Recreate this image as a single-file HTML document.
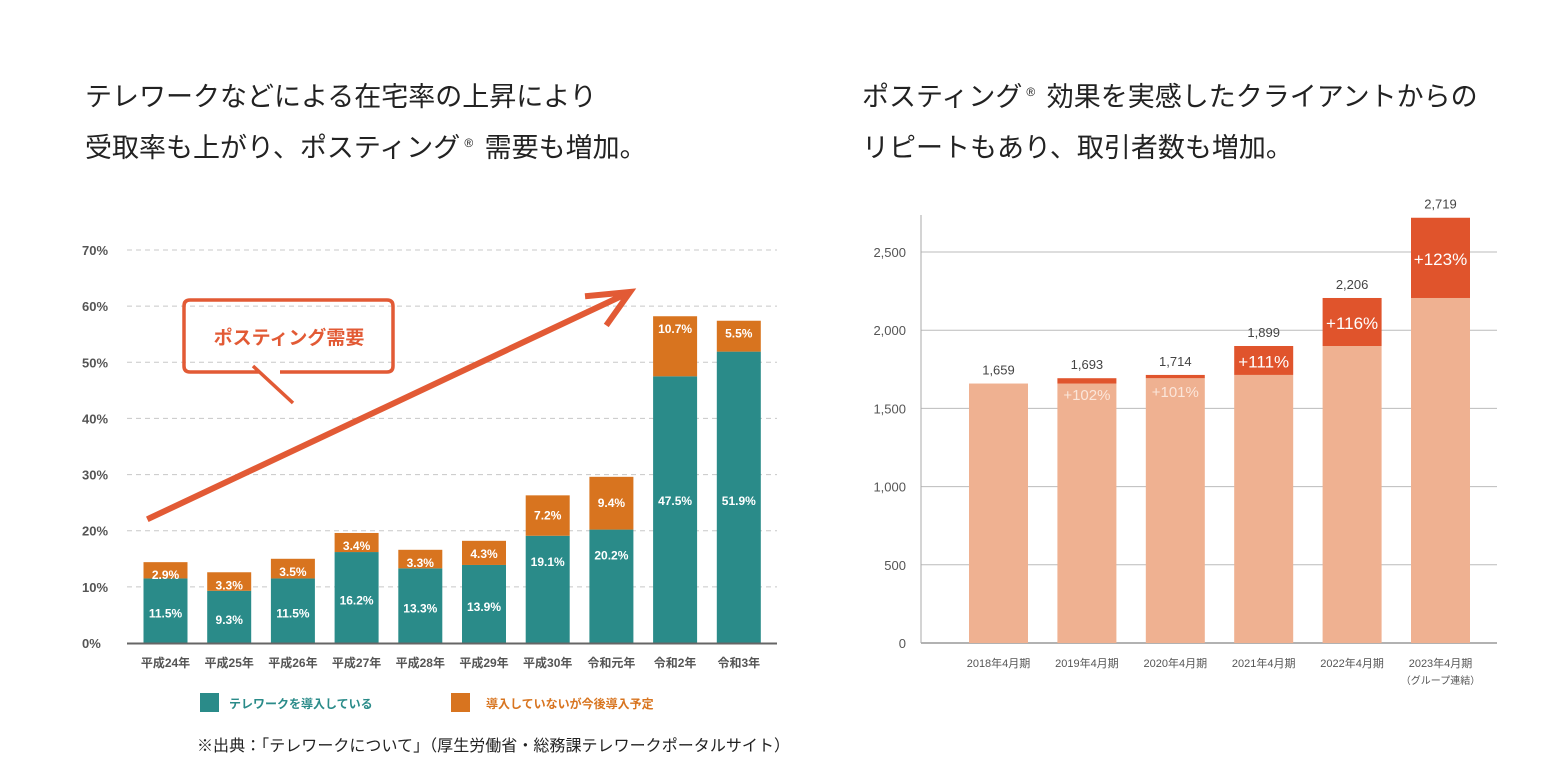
<!DOCTYPE html>
<html><head><meta charset="utf-8"><style>
body{margin:0;background:#fff;width:1560px;height:782px;overflow:hidden;font-family:"Liberation Sans","Noto Sans CJK JP",sans-serif}
.t{position:absolute;font-size:27px;color:#222;line-height:51px;white-space:nowrap}
.t sup{font-size:12px;line-height:0;vertical-align:10px;margin:0 4px}
svg{position:absolute;left:0;top:0}
</style></head><body>
<div class="t" style="left:85px;top:72px">テレワークなどによる在宅率の上昇により<br>受取率も上がり、ポスティング<sup>®</sup> 需要も増加。</div>
<div class="t" style="left:862px;top:72px">ポスティング<sup>®</sup> 効果を実感したクライアントからの<br>リピートもあり、取引者数も増加。</div>
<svg id="s" width="1560" height="782" font-family="Liberation Sans, Noto Sans CJK JP, sans-serif"></svg>
<script>
const leftCats=["平成24年","平成25年","平成26年","平成27年","平成28年","平成29年","平成30年","令和元年","令和2年","令和3年"];
const leftIntro=[11.5,9.3,11.5,16.2,13.3,13.9,19.1,20.2,47.5,51.9];
const leftPlan=[2.9,3.3,3.5,3.4,3.3,4.3,7.2,9.4,10.7,5.5];
const leftTicks=[0,10,20,30,40,50,60,70];
const rightCats=["2018年4月期","2019年4月期","2020年4月期","2021年4月期","2022年4月期","2023年4月期"];
const rightTotals=[1659,1693,1714,1899,2206,2719];
const rightPct=["","+102%","+101%","+111%","+116%","+123%"];
const rightTicks=[0,500,1000,1500,2000,2500];
const NS="http://www.w3.org/2000/svg",s=document.getElementById('s');
function mk(t,a,txt){const e=document.createElementNS(NS,t);for(const k in a)e.setAttribute(k,a[k]);if(txt!=null)e.textContent=txt;s.appendChild(e);return e;}
const ly=v=>643-v*(393/70), lx=i=>165.5+i*63.7;
leftTicks.forEach(v=>{
 if(v>0){const g=mk('line',{x1:127,x2:777,y1:ly(v),y2:ly(v),stroke:'#c8c8c8','stroke-dasharray':'5,4'});
 }
 const t=mk('text',{x:82,y:ly(v)+5,'font-size':13,'font-weight':'bold',fill:'#555'},v+'%');
 
});
leftCats.forEach((c,i)=>{
 const a=leftIntro[i],b=leftPlan[i],w=44,x=lx(i)-w/2;
 const r1=mk('rect',{x:x,y:ly(a),width:w,height:ly(0)-ly(a),fill:'#2a8b89'});
 
 const r2=mk('rect',{x:x,y:ly(a+b),width:w,height:ly(a)-ly(a+b),fill:'#d8741f'});
 
 const t1=mk('text',{x:lx(i),y:i>=8?505:(i>=6?ly(a)+30:ly(a)+(ly(0)-ly(a))/2+7),'font-size':12,'font-weight':'bold',fill:'#fff','text-anchor':'middle'},a+'%');
 
 const t2=mk('text',{x:lx(i),y:i>=6&&i<8?(ly(a+b)+ly(a))/2+4:ly(a+b)+17,'font-size':12,'font-weight':'bold',fill:'#fff','text-anchor':'middle'},b+'%');
 
 const t3=mk('text',{x:lx(i),y:667,'font-size':12,'font-weight':'bold',fill:'#555','text-anchor':'middle'},c);
 
});
let ax=mk('line',{x1:127,x2:777,y1:643.5,y2:643.5,stroke:'#666','stroke-width':2});

let ar=mk('path',{d:'M150 518 L628 293 M588 296 L630 292 L608 323',stroke:'#e25a35','stroke-width':6,fill:'none','stroke-linecap':'square'});

let bx=mk('path',{d:'M260 372 L190 372 Q184 372 184 366 L184 306 Q184 300 190 300 L387 300 Q393 300 393 306 L393 366 Q393 372 387 372 L280 372 M253 366 L293 403',stroke:'#e25a35','stroke-width':3.5,fill:'none'});

let bt=mk('text',{x:289,y:344,'font-size':19,'font-weight':'bold',fill:'#e25a35','text-anchor':'middle'},'ポスティング需要');

let l1=mk('rect',{x:200,y:693,width:19,height:19,fill:'#2a8b89'});
let l2=mk('text',{x:229,y:708,'font-size':12,'font-weight':'bold',fill:'#2a8b89'},'テレワークを導入している');
let l3=mk('rect',{x:451,y:693,width:19,height:19,fill:'#d8741f'});
let l4=mk('text',{x:486,y:708,'font-size':12,'font-weight':'bold',fill:'#d8741f'},'導入していないが今後導入予定');
let src=mk('text',{x:197,y:751,'font-size':16,fill:'#222',textLength:593},'※出典：「テレワークについて」（厚生労働省・総務課テレワークポータルサイト）');

const ry=v=>643-v*(391/2500), rx=i=>998.5+i*88.4;
rightTicks.forEach(v=>{
 const g=mk('line',{x1:921,x2:1497,y1:ry(v),y2:ry(v),stroke:v?'#bbb':'#999','stroke-width':v?1:1.5});
 
 const t=mk('text',{x:906,y:ry(v)+5,'font-size':13,fill:'#555','text-anchor':'end'},v.toLocaleString('en-US'));
 
});
let ra=mk('line',{x1:921,x2:921,y1:215,y2:643,stroke:'#aaa'});
rightCats.forEach((c,i)=>{
 const tot=rightTotals[i],base=i?rightTotals[i-1]:tot,w=59,x=rx(i)-w/2;
 const r1=mk('rect',{x:x,y:ry(base),width:w,height:ry(0)-ry(base),fill:'#efb191'});
 
 if(tot>base){const r2=mk('rect',{x:x,y:ry(tot),width:w,height:ry(base)-ry(tot),fill:'#e0542c'});
 }
 const t=mk('text',{x:rx(i),y:ry(tot)-9,'font-size':13,fill:'#444','text-anchor':'middle'},tot.toLocaleString('en-US'));
 
 if(rightPct[i]){const big=tot-base>100;
  const p=mk('text',{x:rx(i),y:big?(ry(tot)+ry(base))/2+7:ry(tot)+22,'font-size':big?17:15,fill:big?'#fff':'#fbe6da','text-anchor':'middle'},rightPct[i]);
  }
 const xl=mk('text',{x:rx(i),y:667,'font-size':11,fill:'#555','text-anchor':'middle'},c);
 
});
let gn=mk('text',{x:rx(5),y:684,'font-size':10,fill:'#555','text-anchor':'middle'},'（グループ連結）');

</script>
</body></html>
